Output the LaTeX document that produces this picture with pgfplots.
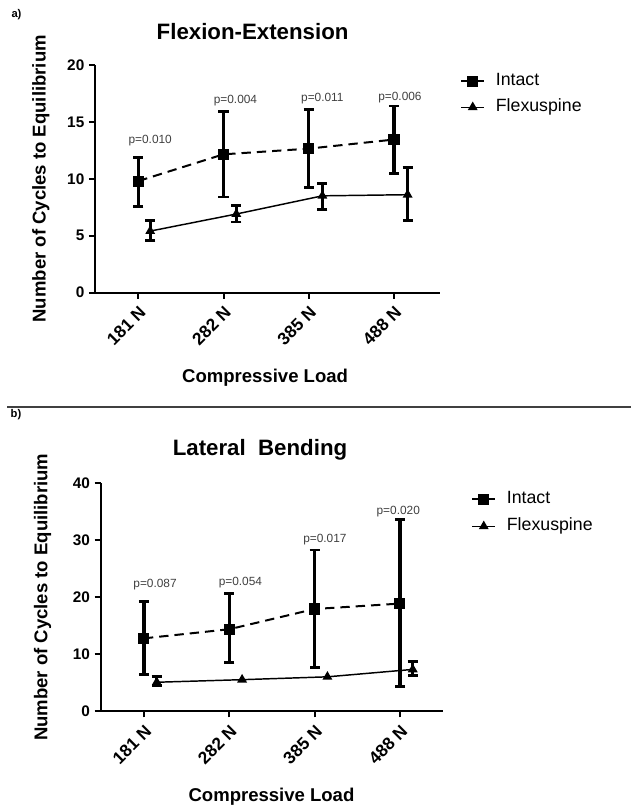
\documentclass[border=0pt]{standalone}
\usepackage{fontspec}
\setmainfont{Liberation Sans}
\usepackage{pgfplots}
\usepackage{pgfplotstable}
\pgfplotsset{compat=1.18}

% Flexion-Extension
\pgfplotstableread{
x y ep em
0 9.8 2.1 2.2
1 12.15 3.8 3.75
2 12.65 3.45 3.45
3 13.45 2.95 2.95
}\intactFE
\pgfplotstableread{
x y ep em
0.14 5.4 0.95 0.8
1.15 6.9 0.75 0.7
2.16 8.5 1.1 1.2
3.16 8.6 2.4 2.25
}\flexFE
% Lateral Bending
\pgfplotstableread{
x y ep em
0 12.8 6.4 6.3
1 14.4 6.2 5.9
2 17.95 10.35 10.2
3 18.9 14.7 14.5
}\intactLB
\pgfplotstableread{
x y
0.15 5.1
1.15 5.55
2.15 6.05
3.15 7.35
}\flexLB
\pgfplotstableread{
x y ep em
0.15 5.1 1.0 0.65
3.15 7.35 1.35 1.0
}\flexLBerr

\definecolor{pgray}{HTML}{404040}

\pgfplotsset{
  myaxis/.style={
    scale only axis,
    axis lines*=left,
    axis line style={line width=1.5pt, black},
    tick style={line width=1.5pt, black},
    tick align=outside,
    major tick length=4.5pt,
    xtick={0,1,2,3},
    xticklabels={181 N,282 N,385 N,488 N},
    xticklabel style={rotate=45, anchor=north east, font=\fontsize{13}{13}\selectfont\bfseries},
    yticklabel style={font=\fontsize{11.5}{12}\selectfont\bfseries},
    /pgf/number format/assume math mode=true,
    ymin=0,
    clip=false,
    label style={font=\fontsize{13.9}{14}\selectfont\bfseries},
    legend cell align=left,
    legend style={draw=none, fill=none, font=\fontsize{13.3}{14}\selectfont,
      inner sep=0pt, column sep=8pt, row sep=6.5pt,
      nodes={inner sep=0pt, text height=10pt, text depth=3pt}},
    legend image code/.code={\draw[mark repeat=2,mark phase=2] plot coordinates {(0pt,0pt) (8.6pt,0pt) (17.2pt,0pt)};},
  },
  intactstyle/.style={black, line width=1.5pt, dash pattern=on 7pt off 4.5pt,
    mark=square*, mark size=3.4pt, mark options={solid}},
  flexstyle/.style={black, line width=1.1pt, solid,
    mark=triangle*, mark size=3.2pt, mark options={solid}},
  errstyle/.style={error bars/.cd, y dir=both, y explicit,
    error bar style={line width=2.4pt, solid, black, draw=black},
    error mark options={rotate=90, mark size=3.8pt, line width=2.2pt, solid, black}},
}

\begin{document}
\begin{tikzpicture}
\useasboundingbox (0,0) rectangle (631*0.75pt,-808*0.75pt);

% panel labels and separator
\node[font=\fontsize{8.4}{9}\selectfont\bfseries] at (16.5*0.75pt,-15*0.75pt) {a)};
\node[font=\fontsize{8.4}{9}\selectfont\bfseries] at (16*0.75pt,-415*0.75pt) {b)};
\draw[line width=1.5pt, black!75] (7*0.75pt,-406.7*0.75pt) -- (631*0.75pt,-406.7*0.75pt);

% titles
\node[font=\fontsize{16.7}{18}\selectfont\bfseries] at (252.6*0.75pt,-31.7*0.75pt) {Flexion-Extension};
\node[font=\fontsize{16.7}{18}\selectfont\bfseries] at (260*0.75pt,-450*0.75pt) {Lateral\ \ Bending};

% ---------- Panel a ----------
\begin{axis}[myaxis,
  at={(95*0.75pt,-292.5*0.75pt)}, anchor=south west,
  width=258.75pt, height=170.6pt,
  xmin=-0.508, xmax=3.54,
  ymax=20, ytick={0,5,10,15,20},
  xlabel={Compressive Load},
  ylabel={Number of Cycles to Equilibrium},
  xlabel style={at={(axis description cs:0.493,-0.376)}, anchor=center},
  ylabel style={at={(axis description cs:-0.157,0.5)}, anchor=center},
  legend style={at={(axis description cs:1.058,0.968)}, anchor=north west},
]
\addplot[intactstyle, errstyle] table[x=x, y=y, y error plus=ep, y error minus=em] {\intactFE};
\addlegendentry{Intact}
\addplot[flexstyle, errstyle] table[x=x, y=y, y error plus=ep, y error minus=em] {\flexFE};
\addlegendentry{Flexuspine}
\node[font=\fontsize{8.9}{10}\selectfont, text=pgray] at (axis cs:0.14,13.4) {p=0.010};
\node[font=\fontsize{8.9}{10}\selectfont, text=pgray] at (axis cs:1.14,16.9) {p=0.004};
\node[font=\fontsize{8.9}{10}\selectfont, text=pgray] at (axis cs:2.16,17.07) {p=0.011};
\node[font=\fontsize{8.9}{10}\selectfont, text=pgray] at (axis cs:3.07,17.1) {p=0.006};
\end{axis}

% ---------- Panel b ----------
\begin{axis}[myaxis,
  at={(100.7*0.75pt,-711.3*0.75pt)}, anchor=south west,
  width=256.7pt, height=171pt,
  xmin=-0.507, xmax=3.504,
  ymax=40, ytick={0,10,20,30,40},
  xlabel={Compressive Load},
  ylabel={Number of Cycles to Equilibrium},
  xlabel style={at={(axis description cs:0.499,-0.3746)}, anchor=center},
  ylabel style={at={(axis description cs:-0.170,0.5)}, anchor=center},
  legend style={at={(axis description cs:1.082,0.969)}, anchor=north west, row sep=7.25pt},
]
\addplot[intactstyle, errstyle] table[x=x, y=y, y error plus=ep, y error minus=em] {\intactLB};
\addlegendentry{Intact}
\addplot[flexstyle, draw=none, mark=none, forget plot, errstyle] table[x=x, y=y, y error plus=ep, y error minus=em] {\flexLBerr};
\addplot[flexstyle] table[x=x, y=y] {\flexLB};
\addlegendentry{Flexuspine}
\node[font=\fontsize{8.9}{10}\selectfont, text=pgray] at (axis cs:0.13,22.2) {p=0.087};
\node[font=\fontsize{8.9}{10}\selectfont, text=pgray] at (axis cs:1.13,22.5) {p=0.054};
\node[font=\fontsize{8.9}{10}\selectfont, text=pgray] at (axis cs:2.12,30.2) {p=0.017};
\node[font=\fontsize{8.9}{10}\selectfont, text=pgray] at (axis cs:2.98,35.0) {p=0.020};
\end{axis}
\end{tikzpicture}
\end{document}
